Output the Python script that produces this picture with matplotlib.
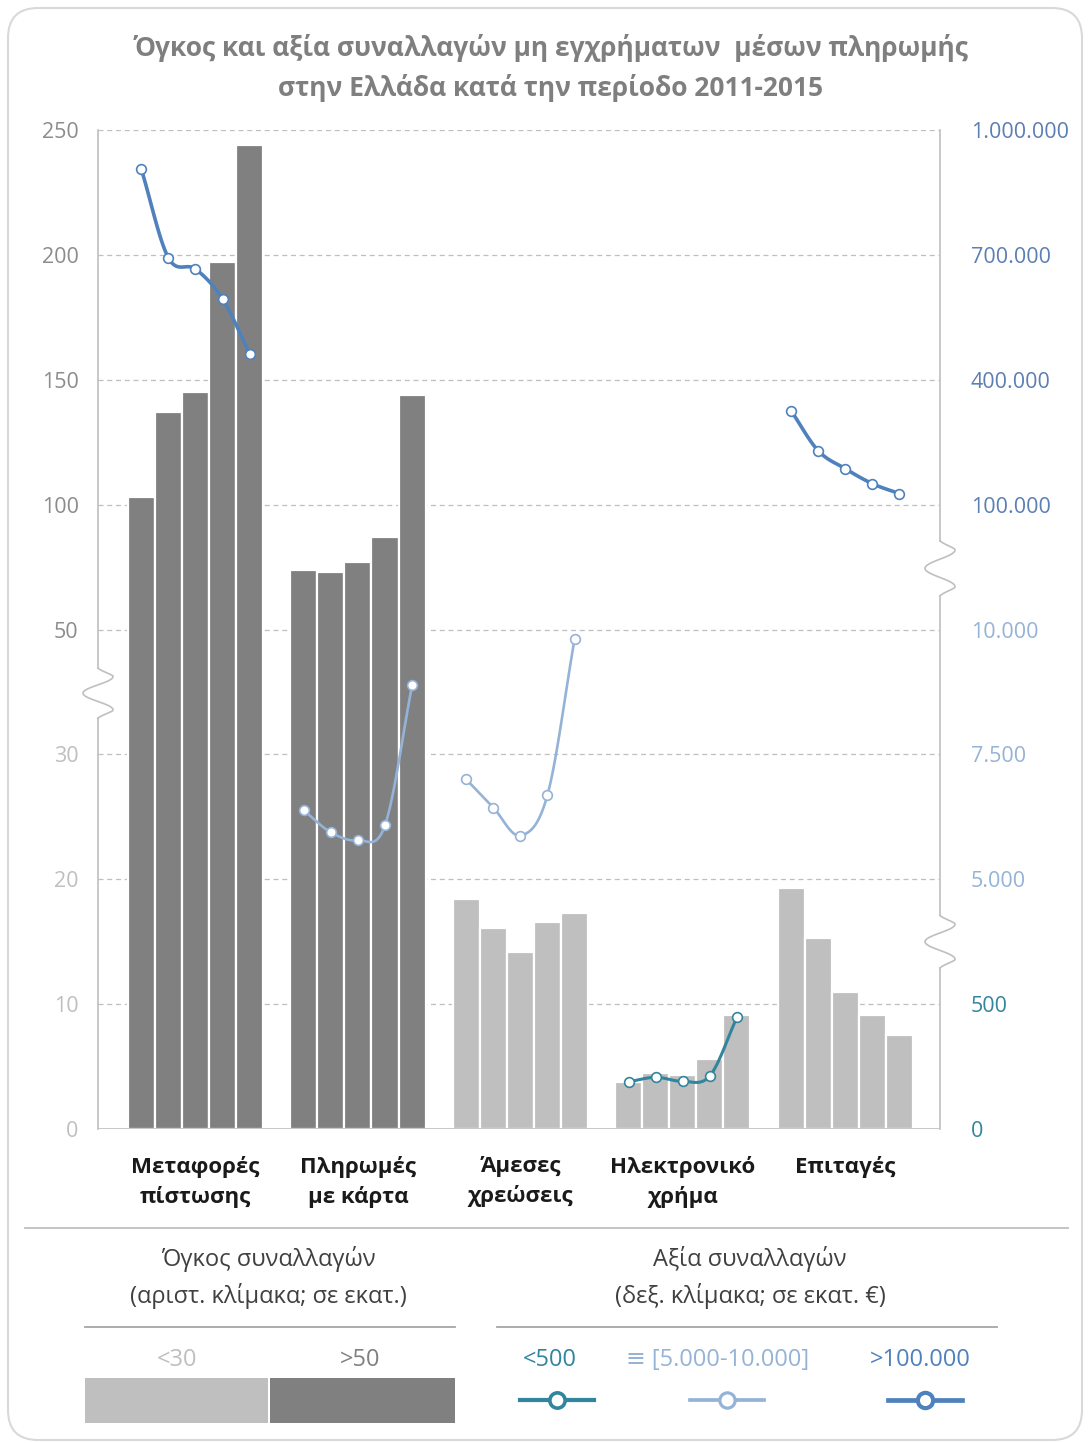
import numpy as np
import matplotlib
matplotlib.use('Agg')
import matplotlib.pyplot as plt
from matplotlib.lines import Line2D
from matplotlib.patches import Rectangle, FancyBboxPatch
from matplotlib.transforms import blended_transform_factory

plt.rcParams['font.family'] = ['Open Sans', 'DejaVu Sans']

# --- data -------------------------------------------------------------
categories = ['Μεταφορές\nπίστωσης', 'Πληρωμές\nμε κάρτα', 'Άμεσες\nχρεώσεις',
              'Ηλεκτρονικό\nχρήμα', 'Επιταγές']
years = [2011, 2012, 2013, 2014, 2015]

# volume of transactions (millions), left scale
vol_credit = [103, 137, 145, 197, 244]
vol_cards = [74, 73, 77, 87, 144]
vol_debits = [18.4, 16.1, 14.2, 16.6, 17.3]
vol_emoney = [3.8, 4.5, 4.3, 5.6, 9.1]
vol_cheques = [19.3, 15.3, 11.0, 9.1, 7.5]

# value of transactions (million EUR), right scale
val_credit = [906000, 693000, 666000, 594000, 463000]
val_cards = [6380, 5940, 5780, 6080, 8880]
val_debits = [7000, 6435, 5875, 6685, 9800]
val_emoney = [189, 207, 191, 213, 447]
val_cheques = [325600, 229600, 186400, 150400, 126400]

left_ticks = [0, 10, 20, 30, 50, 100, 150, 200, 250]
right_ticks = [0, 500, 5000, 7500, 10000, 100000, 400000, 700000, 1000000]
right_labels = ['0', '500', '5.000', '7.500', '10.000', '100.000',
                '400.000', '700.000', '1.000.000']

# broken axes -> piecewise linear mapping onto 8 equal bands
LEFT_XP = [0, 30, 50, 250]
LEFT_FP = [0, 3, 4, 8]
RIGHT_XP = [0, 500, 5000, 10000, 100000, 1000000]
RIGHT_FP = [0, 1, 2, 4, 5, 8]


def left_pos(v):
    return np.interp(v, LEFT_XP, LEFT_FP)


def right_pos(v):
    return np.interp(v, RIGHT_XP, RIGHT_FP)


def smooth(x, y, n=20):
    # catmull-rom through the points (like excel's smoothed line)
    x = np.asarray(x, float)
    y = np.asarray(y, float)
    px = np.concatenate([[2 * x[0] - x[1]], x, [2 * x[-1] - x[-2]]])
    py = np.concatenate([[2 * y[0] - y[1]], y, [2 * y[-1] - y[-2]]])
    xs, ys = [], []
    t = np.linspace(0, 1, n)
    for i in range(1, len(px) - 2):
        for p, out in ((px, xs), (py, ys)):
            p0, p1, p2, p3 = p[i - 1], p[i], p[i + 1], p[i + 2]
            out.extend(0.5 * (2 * p1 + (-p0 + p2) * t
                              + (2 * p0 - 5 * p1 + 4 * p2 - p3) * t ** 2
                              + (-p0 + 3 * p1 - 3 * p2 + p3) * t ** 3))
    return np.array(xs), np.array(ys)


DARK = '#808080'
LIGHT = '#BFBFBF'
BLUE = '#4F81BD'
LBLUE = '#95B3D7'
TEAL = '#31859C'

W, H = 1090, 1443
fig = plt.figure(figsize=(W / 100, H / 100), dpi=100)


def fx(x):
    return x / W


def fy(y):
    return 1 - y / H


ax = fig.add_axes([fx(98), fy(1129), fx(940) - fx(98), fy(130) - fy(1129)])

volumes = [vol_credit, vol_cards, vol_debits, vol_emoney, vol_cheques]
values = [val_credit, val_cards, val_debits, val_emoney, val_cheques]
bar_colors = [DARK, DARK, LIGHT, LIGHT, LIGHT]
line_styles = [(BLUE, 2.6), (LBLUE, 1.9), (LBLUE, 1.9), (TEAL, 2.2), (BLUE, 2.6)]

GROUP = len(years) + 1
for g in range(len(categories)):
    xs = g * GROUP + np.arange(len(years))
    ax.bar(xs, left_pos(volumes[g]), width=1.0, color=bar_colors[g],
           edgecolor='white', linewidth=1.6, zorder=2)
    col, lw = line_styles[g]
    yv = right_pos(values[g])
    sx, sy = smooth(xs, yv)
    ax.plot(sx, sy, color=col, lw=lw, zorder=3, solid_capstyle='round')
    ax.plot(xs, yv, 'o', ms=7, mfc='white', mec=col, mew=1.2, zorder=4)
    ax.text(g * GROUP + (len(years) - 1) / 2, -0.22, categories[g],
            ha='center', va='top', fontsize=16, fontweight='bold',
            color='#1a1a1a', linespacing=1.45)

ax.set_xlim(-1.6, (len(categories) - 1) * GROUP + len(years) - 1 + 1.5)
ax.set_ylim(0, 8)

for k in range(1, 9):
    ax.axhline(k, color='#BFBFBF', lw=0.9, ls=(0, (4, 3)), zorder=1)

for s in ax.spines.values():
    s.set_visible(False)
ax.axhline(0, color='#BFBFBF', lw=1.2, zorder=5)

ax.set_yticks(left_pos(left_ticks))
ax.set_yticklabels([str(v) for v in left_ticks])
ax.tick_params(axis='y', length=0, pad=14, labelsize=15.5)
ax.set_xticks([])
for lab, v in zip(ax.get_yticklabels(), left_ticks):
    lab.set_color(LIGHT if v <= 30 else '#8C8C8C')

ax2 = ax.twinx()
ax2.set_ylim(0, 8)
for s in ax2.spines.values():
    s.set_visible(False)
ax2.set_yticks(right_pos(right_ticks))
ax2.set_yticklabels(right_labels)
ax2.tick_params(axis='y', length=0, pad=22, labelsize=15.5)
for lab, v in zip(ax2.get_yticklabels(), right_ticks):
    if v <= 500:
        lab.set_color(TEAL)
    elif v <= 10000:
        lab.set_color(LBLUE)
    else:
        lab.set_color('#5B7FB3')

# axis lines with break marks
tr = blended_transform_factory(ax.transAxes, ax.transData)
amp = 15 / (940 - 98)


def axis_with_breaks(xa, breaks):
    edges = [0] + [b for br in breaks for b in br] + [8]
    for i in range(0, len(edges), 2):
        ax.plot([xa, xa], [edges[i], edges[i + 1]], color='#BFBFBF', lw=1.2,
                transform=tr, clip_on=False, zorder=5)
    for y0, y1 in breaks:
        t = np.linspace(0, 1, 60)
        zx = xa + amp * np.sin(3 * np.pi * t) * np.minimum(1, 4 * np.minimum(t, 1 - t) + 0.4)
        ax.plot(zx, y0 + (y1 - y0) * t, color='#BFBFBF', lw=1.2,
                transform=tr, clip_on=False, zorder=5)


axis_with_breaks(0, [(3.29, 3.69)])
axis_with_breaks(1, [(1.29, 1.71), (4.27, 4.71)])

# title
fig.text(fx(551), fy(48), 'Όγκος και αξία συναλλαγών μη εγχρήματων  μέσων πληρωμής',
         ha='center', va='center', fontsize=19, fontweight='bold', color='#7F7F7F')
fig.text(fx(551), fy(88), 'στην Ελλάδα κατά την περίοδο 2011-2015',
         ha='center', va='center', fontsize=19, fontweight='bold', color='#7F7F7F')

# frame and separators
fig.add_artist(FancyBboxPatch((8, 3), W - 16, H - 11,
                              boxstyle='round,pad=0,rounding_size=30',
                              transform=None, fc='none', ec='#D9D9D9', lw=1.5))
fig.add_artist(Line2D([fx(25), fx(1068)], [fy(1228), fy(1228)],
                      transform=fig.transFigure, color='#BFBFBF', lw=1.3))
fig.add_artist(Line2D([fx(85), fx(455)], [fy(1327), fy(1327)],
                      transform=fig.transFigure, color='#A6A6A6', lw=1.3))
fig.add_artist(Line2D([fx(497), fx(997)], [fy(1327), fy(1327)],
                      transform=fig.transFigure, color='#A6A6A6', lw=1.3))

# legend
LEG_FS = 17
txt = dict(ha='center', va='center', fontsize=LEG_FS, color='#404040')
fig.text(fx(268), fy(1259), 'Όγκος συναλλαγών', **txt)
fig.text(fx(268), fy(1296), '(αριστ. κλίμακα; σε εκατ.)', **txt)
fig.text(fx(750), fy(1259), 'Αξία συναλλαγών', **txt)
fig.text(fx(750), fy(1296), '(δεξ. κλίμακα; σε εκατ. €)', **txt)

fig.text(fx(177), fy(1360), '<30', ha='center', va='center', fontsize=LEG_FS, color=LIGHT)
fig.text(fx(360), fy(1360), '>50', ha='center', va='center', fontsize=LEG_FS, color=DARK)
fig.add_artist(Rectangle((fx(85), fy(1423)), fx(268) - fx(85), fy(1378) - fy(1423),
                         transform=fig.transFigure, color=LIGHT, lw=0))
fig.add_artist(Rectangle((fx(270), fy(1423)), fx(455) - fx(270), fy(1378) - fy(1423),
                         transform=fig.transFigure, color=DARK, lw=0))

legend_lines = [('<500', TEAL, 550, 557, 2.2), ('≡ [5.000-10.000]', LBLUE, 718, 727, 1.9),
                ('>100.000', BLUE, 920, 925, 2.6)]
for label, col, tx, cx, lw in legend_lines:
    fig.text(fx(tx), fy(1360), label, ha='center', va='center', fontsize=LEG_FS, color=col)
    fig.add_artist(Line2D([fx(cx - 37), fx(cx + 37)], [fy(1400), fy(1400)],
                          transform=fig.transFigure, color=col, lw=lw + 0.8))
    fig.add_artist(Line2D([fx(cx)], [fy(1400)], transform=fig.transFigure,
                          marker='o', ms=11, mfc='white', mec=col, mew=lw + 0.4))

fig.savefig('out.png', dpi=100)
